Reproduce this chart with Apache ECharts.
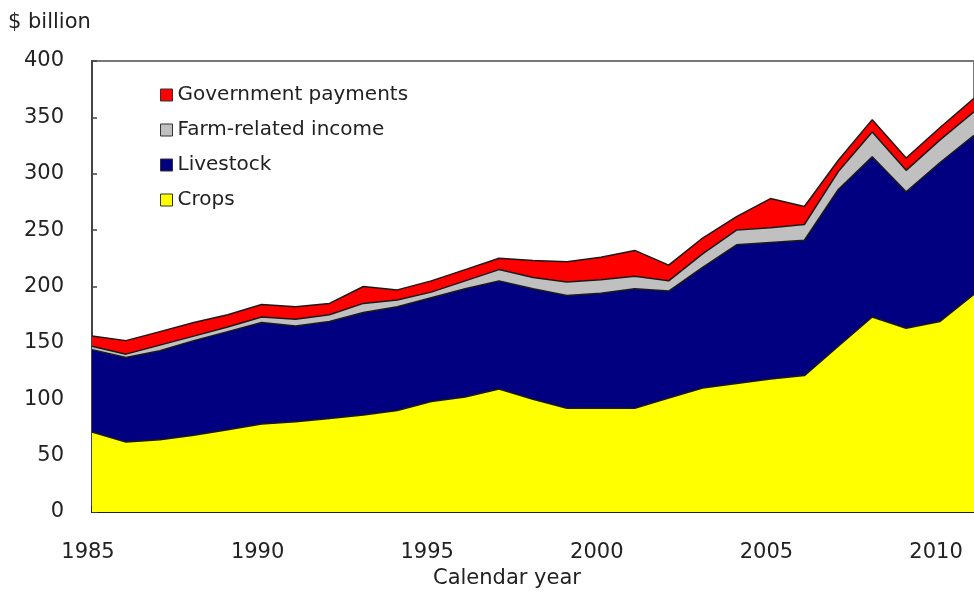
<!DOCTYPE html>
<html>
<head>
<meta charset="utf-8">
<script src="https://cdn.jsdelivr.net/npm/echarts@6/dist/echarts.min.js"></script>
<style>
  html, body { margin: 0; padding: 0; background: #fff; }
  #chart { width: 974px; height: 594px; }
</style>
</head>
<body>
<div id="chart"></div>
<script>
// U.S. farm cash receipts by source, $ billion
const years = ['1985','1986','1987','1988','1989','1990','1991','1992','1993','1994','1995','1996','1997','1998','1999','2000','2001','2002','2003','2004','2005','2006','2007','2008','2009','2010','2011'];
const crops = [71, 62, 64, 68, 73, 78, 80, 83, 86, 90, 98, 102, 109, 100, 92, 92, 92, 101, 110, 114, 118, 121, 147, 173, 163, 169, 193];
const livestock = [73, 75, 79, 84, 87, 90, 85, 86, 91, 92, 92, 96, 96, 98, 100, 102, 106, 95, 107, 123, 121, 120, 139, 142, 121, 141, 141];
const farmRelated = [3, 3, 5, 4, 4, 5, 6, 6, 8, 6, 5, 7, 10, 10, 12, 12, 11, 9, 12, 13, 13, 14, 16, 22, 19, 20, 21];
const govPayments = [9, 12, 12, 12, 11, 11, 11, 10, 15, 9, 10, 10, 10, 15, 18, 20, 23, 14, 14, 12, 26, 16, 10, 11, 11, 11, 12];
const yTicks = { min: 0, max: 400, step: 50 };

const FONT = 'DejaVu Sans';

function areaSeries(name, data, color) {
  return {
    name: name,
    type: 'line',
    stack: 'total',
    data: data,
    showSymbol: false,
    symbol: 'none',
    lineStyle: { color: '#1a1a1a', width: 1.5 },
    itemStyle: { color: color },
    areaStyle: { color: color, opacity: 1 },
    emphasis: { disabled: true }
  };
}

const chart = echarts.init(document.getElementById('chart'), null, { renderer: 'canvas' });
chart.setOption({
  animation: false,
  backgroundColor: '#ffffff',
  grid: {
    left: 92, top: 61, right: -8, bottom: 82,
    show: true, borderColor: '#777', borderWidth: 2, backgroundColor: 'transparent'
  },
  legend: {
    orient: 'vertical',
    left: 155, top: 80,
    itemWidth: 12, itemHeight: 12, itemGap: 15,
    icon: 'rect',
    itemStyle: { borderColor: '#333', borderWidth: 1 },
    textStyle: { fontFamily: FONT, fontSize: 20, color: '#222' },
    data: ['Government payments', 'Farm-related income', 'Livestock', 'Crops']
  },
  xAxis: {
    type: 'category',
    data: years,
    boundaryGap: false,
    axisLine: { lineStyle: { color: '#222', width: 2 } },
    axisTick: { inside: true, length: 6, interval: 4, lineStyle: { color: '#222', width: 1.5 } },
    axisLabel: { interval: 4, margin: 30, fontFamily: FONT, fontSize: 21, color: '#222', padding: [0, 8, 0, 0] },
    splitLine: { show: false }
  },
  yAxis: {
    type: 'value',
    min: yTicks.min, max: yTicks.max, interval: yTicks.step,
    axisLine: { show: true, lineStyle: { color: '#444', width: 2 } },
    axisTick: { show: true, inside: true, length: 5, lineStyle: { color: '#444', width: 1.5 } },
    axisLabel: { margin: 28, fontFamily: FONT, fontSize: 21, color: '#222' },
    splitLine: { show: false }
  },
  graphic: [
    { type: 'text', left: 8, top: 12, style: { text: '$ billion', fontFamily: FONT, fontSize: 21, fill: '#222' } },
    { type: 'text', left: 433, top: 568, style: { text: 'Calendar year', fontFamily: FONT, fontSize: 21, fill: '#222' } }
  ],
  series: [
    areaSeries('Crops', crops, '#ffff00'),
    areaSeries('Livestock', livestock, '#000080'),
    areaSeries('Farm-related income', farmRelated, '#c0c0c0'),
    areaSeries('Government payments', govPayments, '#ff0000')
  ]
});
</script>
</body>
</html>
